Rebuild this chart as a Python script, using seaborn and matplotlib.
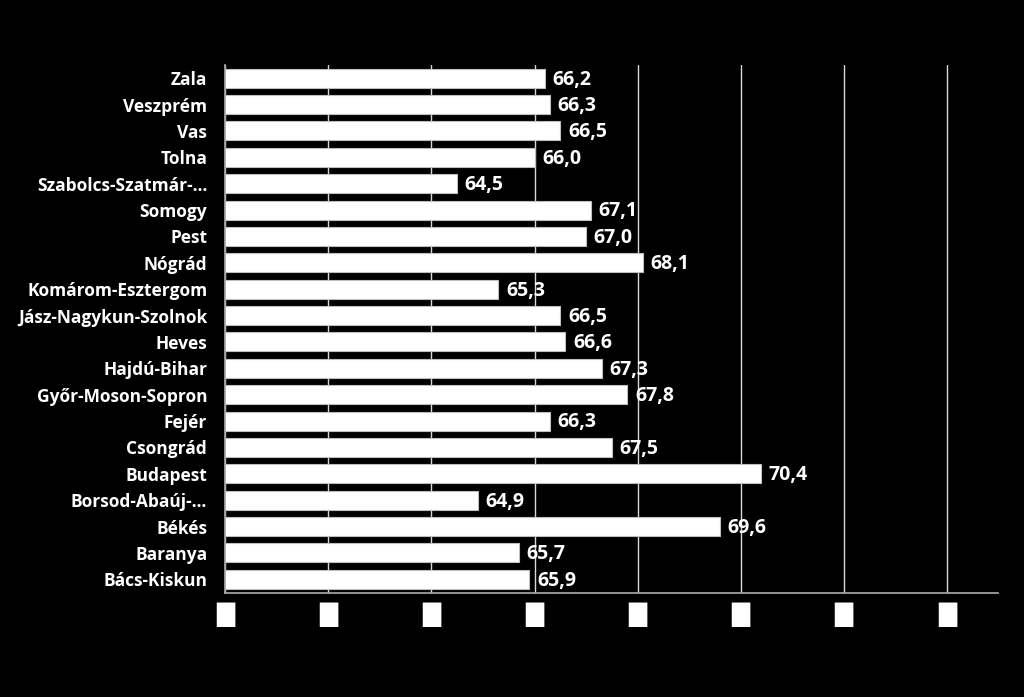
import matplotlib
matplotlib.use("Agg")
import matplotlib.pyplot as plt
import seaborn as sns
import pandas as pd

categories = ["Zala", "Veszprém", "Vas", "Tolna", "Szabolcs-Szatmár-…", "Somogy", "Pest",
              "Nógrád", "Komárom-Esztergom", "Jász-Nagykun-Szolnok", "Heves", "Hajdú-Bihar",
              "Győr-Moson-Sopron", "Fejér", "Csongrád", "Budapest", "Borsod-Abaúj-…",
              "Békés", "Baranya", "Bács-Kiskun"]
values = [66.2, 66.3, 66.5, 66.0, 64.5, 67.1, 67.0, 68.1, 65.3, 66.5, 66.6, 67.3,
          67.8, 66.3, 67.5, 70.4, 64.9, 69.6, 65.7, 65.9]
tick_values = [60, 62, 64, 66, 68, 70, 72, 74]
tick_labels = ["█"] * len(tick_values)

df = pd.DataFrame({"county": categories, "value": values})

sns.set_theme(style="white")
plt.rcParams['font.family'] = ['Open Sans', 'DejaVu Sans']

fig, ax = plt.subplots(figsize=(10.24, 6.97), dpi=100)
fig.patch.set_facecolor("black")
ax.set_facecolor("black")
fig.subplots_adjust(left=0.22, right=0.975, top=1 - 65 / 697, bottom=1 - 593 / 697)

ax.set_axisbelow(True)
for t in tick_values:
    ax.axvline(t, color="#d9d9d9", lw=1, zorder=0)

sns.barplot(data=df, x="value", y="county", orient="h", color="white",
            edgecolor="#bfbfbf", linewidth=0.8, width=0.72, ax=ax, zorder=2)

ax.set_xlim(60, 75)
ax.set_ylim(19.52, -0.5)
ax.set_xticks(tick_values)
ax.set_xticklabels(tick_labels, color="white", fontsize=17, family="DejaVu Sans")
ax.tick_params(axis="x", length=0, pad=7, bottom=False)
ax.tick_params(axis="y", length=0, pad=13, labelcolor="white", labelsize=12.5)
for lab in ax.get_yticklabels():
    lab.set_fontweight("bold")
ax.set_xlabel("")
ax.set_ylabel("")

for s in ["top", "right"]:
    ax.spines[s].set_visible(False)
ax.spines["left"].set_color("#a6a6a6")
ax.spines["bottom"].set_color("#a6a6a6")

for i, v in enumerate(values):
    ax.annotate(f"{v:.1f}".replace(".", ","), xy=(v, i), xytext=(5.5, -1),
                textcoords="offset points", va="center", ha="left",
                color="white", fontsize=14, fontweight="bold", zorder=3)

fig.savefig("out.png", dpi=100, facecolor="black")
